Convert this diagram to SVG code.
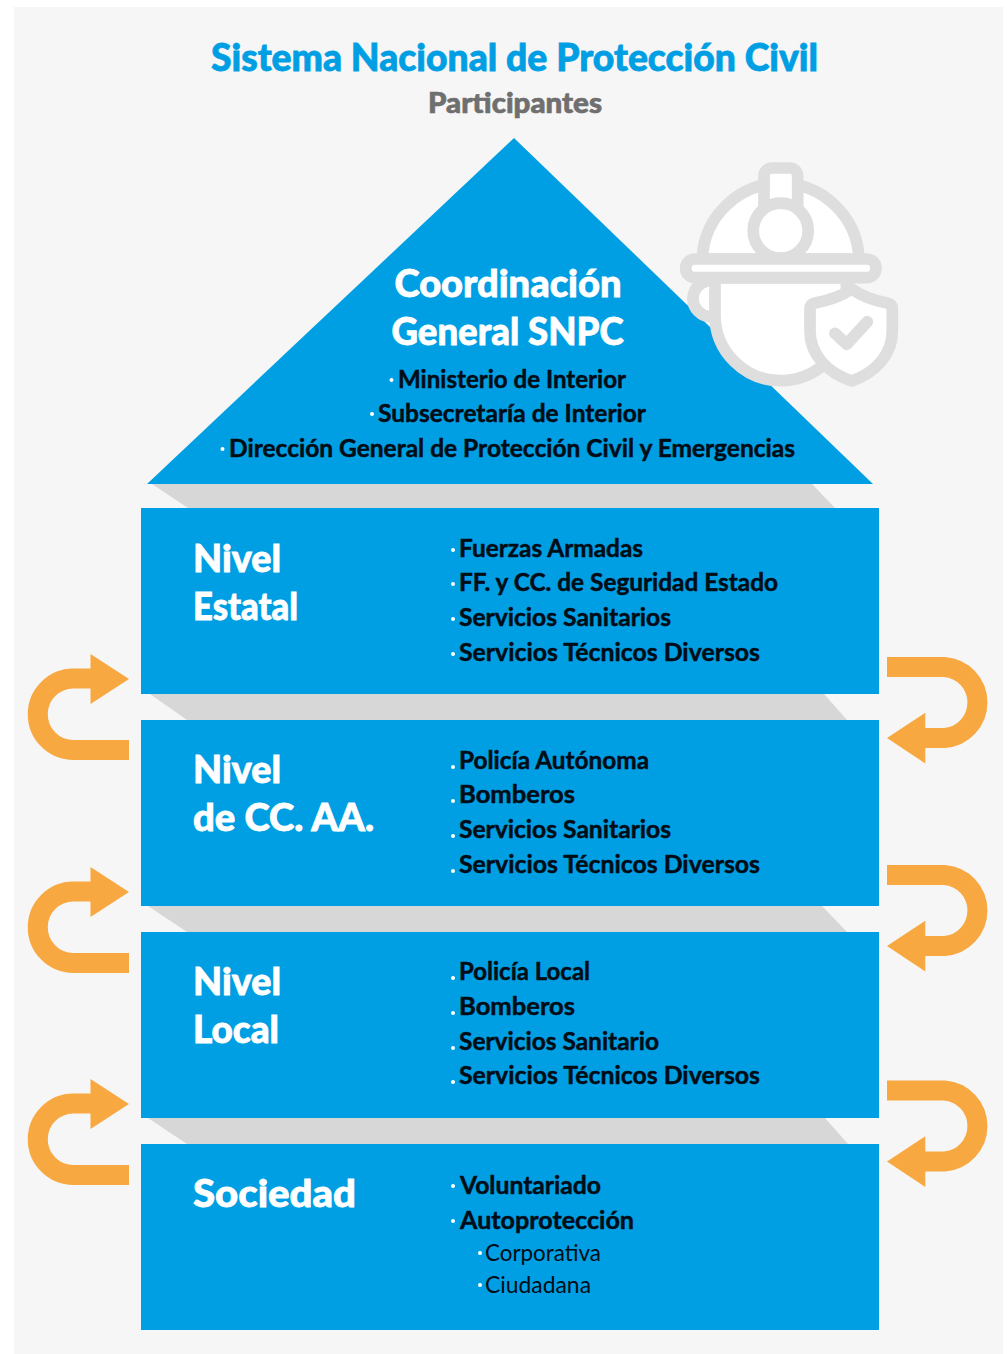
<svg xmlns="http://www.w3.org/2000/svg" width="1007" height="1354" viewBox="0 0 1007 1354">
<style>
text{font-family:"Lato","Liberation Sans",sans-serif;}
.t{fill:#009fe3;font-size:37px;font-weight:900;stroke:#009fe3;stroke-width:.8}
.h{fill:#fff;font-size:38px;font-weight:900;stroke:#fff;stroke-width:.8}
.l{fill:#000c16;font-size:25.5px;font-weight:700;stroke:#000c16;stroke-width:.5}
.s{fill:#000c16;font-size:24px;font-weight:400}
.box{fill:#009fe3}
.sh{fill:#d7d7d7}
.b{fill:#fff}
.ar{fill:none;stroke:#f8a840;stroke-width:20}
.ah{fill:#f8a840}
.hm{fill:#fff;stroke:#dedede;stroke-width:11.7;stroke-linejoin:round;stroke-linecap:round}
</style>
<defs>
<g id="la"><path class="ar" d="M129.5 750H74A35.7 35.7 0 0 1 74 678.5H95"/><path class="ah" d="M91 654L129.5 679L91 704Z"/></g>
<g id="ra"><path class="ar" d="M887 667H944.500A35.600 35.600 0 0 1 944.500 738H922"/><path class="ah" d="M925.300 712.700L887 738L925.300 763.500Z"/></g>
</defs>
<rect width="1007" height="1354" fill="#fff"/>
<rect x="14" y="7" width="989" height="1347" fill="#f6f6f6"/>
<g id="title">
<text class="t" x="211" y="71" textLength="607" lengthAdjust="spacingAndGlyphs">Sistema Nacional de Protección Civil</text>
<text x="428" y="113" textLength="174" lengthAdjust="spacingAndGlyphs" style="fill:#6f6f6f;stroke:#6f6f6f;stroke-width:.7;font-size:29px;font-weight:900">Participantes</text>
</g>
<g id="shadows">
<path class="sh" d="M152 484H812L835 508H188Z"/>
<path class="sh" d="M150 694H824L847 720H187Z"/>
<path class="sh" d="M148 906H822L847 932H187Z"/>
<path class="sh" d="M148 1118H825L848 1144H187Z"/>
</g>
<g id="node-coordinacion">
<path class="box" d="M514 138L873 484H147Z"/>
<text class="h" x="394.500" y="296.500" textLength="227" lengthAdjust="spacingAndGlyphs">Coordinación</text>
<text class="h" x="391.500" y="344.500" textLength="232" lengthAdjust="spacingAndGlyphs">General SNPC</text>
<circle class="b" cx="391.500" cy="380" r="2"/><text class="l" x="398" y="388" textLength="228" lengthAdjust="spacingAndGlyphs">Ministerio de Interior</text>
<circle class="b" cx="372" cy="414" r="2"/><text class="l" x="378" y="422" textLength="268" lengthAdjust="spacingAndGlyphs">Subsecretaría de Interior</text>
<circle class="b" cx="222.500" cy="449" r="2"/><text class="l" x="229" y="457" textLength="566" lengthAdjust="spacingAndGlyphs">Dirección General de Protección Civil y Emergencias</text>
</g>
<g id="icon-helmet">
<path class="hm" d="M702.300 259A78.400 78.400 0 0 1 859 259Z"/>
<rect class="hm" x="764" y="168" width="33.700" height="50" rx="8"/>
<circle class="hm" cx="780.700" cy="230.700" r="27.500"/>
<path class="hm" d="M716 280.700H711A18 18 0 0 0 711 316.700H716Z"/>
<path class="hm" d="M715 278V315A65.700 65.700 0 0 0 846.400 315V278Z"/>
<rect class="hm" x="685.700" y="259" width="190.300" height="18.700" rx="9.300"/>
<path class="hm" d="M851.700 289C840 297 826 301 815 303Q810 304 810 309V331C810 355 828 373 851.700 381C875 373 892.300 355 892.300 331V309Q892.300 304 887 303C876 301 863 297 851.700 289Z"/>
<path class="hm" style="fill:none" d="M835 333.300L846.700 344.300L867.300 321.700"/>
</g>
<g id="node-estatal">
<rect class="box" x="141" y="508" width="738" height="186"/>
<text class="h" x="193" y="572" textLength="88" lengthAdjust="spacingAndGlyphs">Nivel</text>
<text class="h" x="193" y="620" textLength="105" lengthAdjust="spacingAndGlyphs">Estatal</text>
<circle class="b" cx="453" cy="550" r="2"/><text class="l" x="459" y="557" textLength="184" lengthAdjust="spacingAndGlyphs">Fuerzas Armadas</text>
<circle class="b" cx="453" cy="584" r="2"/><text class="l" x="459" y="591" textLength="319" lengthAdjust="spacingAndGlyphs">FF. y CC. de Seguridad Estado</text>
<circle class="b" cx="453" cy="619" r="2"/><text class="l" x="459" y="626" textLength="212" lengthAdjust="spacingAndGlyphs">Servicios Sanitarios</text>
<circle class="b" cx="453" cy="654" r="2"/><text class="l" x="459" y="661" textLength="301" lengthAdjust="spacingAndGlyphs">Servicios Técnicos Diversos</text>
</g>
<g id="node-ccaa">
<rect class="box" x="141" y="720" width="738" height="186"/>
<text class="h" x="193" y="783" textLength="88" lengthAdjust="spacingAndGlyphs">Nivel</text>
<text class="h" x="193" y="831" textLength="181" lengthAdjust="spacingAndGlyphs">de CC. AA.</text>
<circle class="b" cx="453" cy="767" r="2"/><text class="l" x="459" y="769" textLength="190" lengthAdjust="spacingAndGlyphs">Policía Autónoma</text>
<circle class="b" cx="453" cy="801" r="2"/><text class="l" x="459" y="803" textLength="116" lengthAdjust="spacingAndGlyphs">Bomberos</text>
<circle class="b" cx="453" cy="836" r="2"/><text class="l" x="459" y="838" textLength="212" lengthAdjust="spacingAndGlyphs">Servicios Sanitarios</text>
<circle class="b" cx="453" cy="871" r="2"/><text class="l" x="459" y="873" textLength="301" lengthAdjust="spacingAndGlyphs">Servicios Técnicos Diversos</text>
</g>
<g id="node-local">
<rect class="box" x="141" y="932" width="738" height="186"/>
<text class="h" x="193" y="995" textLength="88" lengthAdjust="spacingAndGlyphs">Nivel</text>
<text class="h" x="193" y="1043" textLength="86" lengthAdjust="spacingAndGlyphs">Local</text>
<circle class="b" cx="453" cy="978" r="2"/><text class="l" x="459" y="980" textLength="131" lengthAdjust="spacingAndGlyphs">Policía Local</text>
<circle class="b" cx="453" cy="1013" r="2"/><text class="l" x="459" y="1015" textLength="116" lengthAdjust="spacingAndGlyphs">Bomberos</text>
<circle class="b" cx="453" cy="1048" r="2"/><text class="l" x="459" y="1050" textLength="200" lengthAdjust="spacingAndGlyphs">Servicios Sanitario</text>
<circle class="b" cx="453" cy="1082" r="2"/><text class="l" x="459" y="1084" textLength="301" lengthAdjust="spacingAndGlyphs">Servicios Técnicos Diversos</text>
</g>
<g id="node-sociedad">
<rect class="box" x="141" y="1144" width="738" height="186"/>
<text class="h" x="193" y="1207" textLength="163" lengthAdjust="spacingAndGlyphs">Sociedad</text>
<circle class="b" cx="453" cy="1186" r="2"/><text class="l" x="460" y="1194" textLength="141" lengthAdjust="spacingAndGlyphs">Voluntariado</text>
<circle class="b" cx="453" cy="1221" r="2"/><text class="l" x="460" y="1229" textLength="174" lengthAdjust="spacingAndGlyphs">Autoprotección</text>
<circle class="b" cx="480" cy="1253" r="2"/><text class="s" x="485" y="1261" textLength="116" lengthAdjust="spacingAndGlyphs">Corporativa</text>
<circle class="b" cx="480" cy="1285" r="2"/><text class="s" x="485" y="1293" textLength="106" lengthAdjust="spacingAndGlyphs">Ciudadana</text>
</g>
<g id="connectors">
<use href="#la" x="-0.500"/>
<use href="#la" x="-0.500" y="213"/>
<use href="#la" x="-0.500" y="425"/>
<use href="#ra"/>
<use href="#ra" y="208"/>
<use href="#ra" y="423.500"/>
</g>
</svg>
